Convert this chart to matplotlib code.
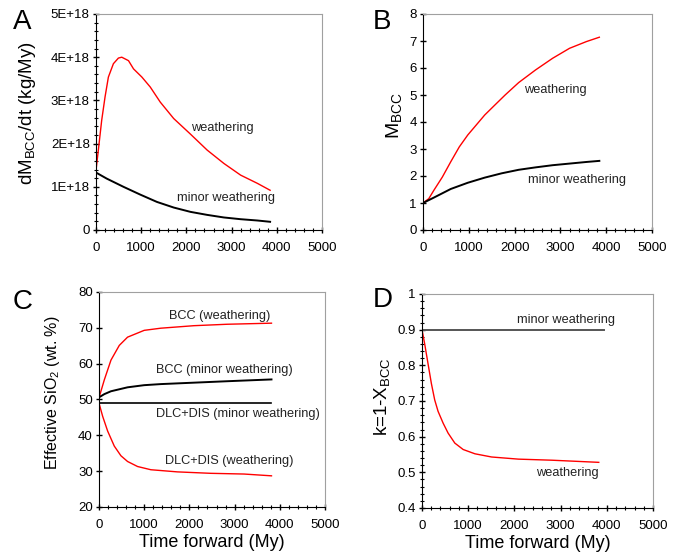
import matplotlib
matplotlib.use("Agg")
import matplotlib.pyplot as plt
from matplotlib.ticker import MultipleLocator, FuncFormatter
import numpy as np

plt.rcParams['font.family'] = ['Liberation Sans', 'DejaVu Sans']
plt.rcParams['mathtext.fontset'] = 'custom'
plt.rcParams['mathtext.rm'] = 'Liberation Sans'

# --- panel A: dM_BCC/dt (kg/My) ---
a_t_red = [0, 52, 126, 200, 274, 385, 496, 570, 719, 830, 1015, 1200, 1422, 1719,
           2089, 2459, 2830, 3200, 3570, 3852]
a_red = [1.38, 1.85, 2.54, 3.08, 3.54, 3.85, 3.98, 4.0, 3.92, 3.73, 3.54, 3.31, 2.96,
         2.58, 2.22, 1.85, 1.54, 1.27, 1.08, 0.92]
a_t_blk = [0, 237, 607, 978, 1348, 1719, 2089, 2459, 2830, 3200, 3570, 3852]
a_blk = [1.33, 1.19, 1.0, 0.82, 0.65, 0.52, 0.42, 0.35, 0.29, 0.25, 0.22, 0.19]

# --- panel B: M_BCC ---
b_t_red = [0, 126, 237, 422, 607, 793, 978, 1163, 1348, 1570, 1793, 2089, 2459, 2830,
           3200, 3570, 3850]
b_red = [1.0, 1.16, 1.47, 1.96, 2.53, 3.08, 3.52, 3.89, 4.26, 4.63, 5.0, 5.46, 5.93,
         6.36, 6.73, 6.98, 7.14]
b_t_blk = [0, 237, 607, 978, 1348, 1719, 2089, 2459, 2830, 3200, 3570, 3850]
b_blk = [1.0, 1.2, 1.52, 1.75, 1.94, 2.1, 2.23, 2.32, 2.4, 2.46, 2.52, 2.56]

# --- panel C: effective SiO2 ---
c_t_bcc_w = [0, 118, 265, 449, 632, 1000, 1368, 2103, 2838, 3816]
c_bcc_w = [50.5, 55.5, 61.0, 65.1, 67.4, 69.3, 69.9, 70.6, 71.0, 71.3]
c_t_bcc_m = [0, 118, 265, 632, 1000, 1368, 2103, 2838, 3816]
c_bcc_m = [50.6, 51.5, 52.3, 53.4, 54.0, 54.3, 54.7, 55.1, 55.6]
c_t_dlc_m = [0, 3816]
c_dlc_m = [49.0, 49.0]
c_t_dlc_w = [0, 81, 191, 338, 485, 632, 853, 1147, 1735, 2471, 3206, 3816]
c_dlc_w = [49.0, 45.3, 41.2, 37.0, 34.3, 32.7, 31.3, 30.4, 29.8, 29.4, 29.2, 28.7]

# --- panel D: k = 1 - X_BCC ---
d_t_blk = [0, 3950]
d_blk = [0.9, 0.9]
d_t_red = [0, 58, 130, 203, 275, 348, 457, 565, 710, 891, 1145, 1507, 2087, 2812, 3826]
d_red = [0.9, 0.86, 0.805, 0.749, 0.703, 0.671, 0.638, 0.61, 0.582, 0.564, 0.552,
         0.543, 0.537, 0.534, 0.528]

W, H = 681, 559
fig = plt.figure(figsize=(W / 100, H / 100), dpi=100)


def make_ax(l, r, t, b):
    return fig.add_axes([l / W, 1 - b / H, (r - l) / W, (b - t) / H])


def style(ax, ylim, ymaj, yminor=None):
    ax.set_xlim(0, 5000)
    ax.set_ylim(*ylim)
    ax.xaxis.set_major_locator(MultipleLocator(1000))
    ax.xaxis.set_minor_locator(MultipleLocator(200))
    ax.yaxis.set_major_locator(MultipleLocator(ymaj))
    if yminor:
        ax.yaxis.set_minor_locator(MultipleLocator(yminor))
    for s in ['top', 'right']:
        ax.spines[s].set_color('#a0a0a0')
    ax.tick_params(which='major', direction='inout', length=5, width=1, labelsize=9.5)
    ax.tick_params(which='minor', direction='inout', length=3.5, width=0.8)
    ax.tick_params(axis='x', which='major', pad=6)
    ax.tick_params(axis='y', which='major', pad=2)
    ax.tick_params(top=False, right=False, which='both')


red = '#ff0000'
txt = '#222222'

# A
ax = make_ax(96, 322, 14, 230)
ax.plot(a_t_red, np.array(a_red) * 1e18, color=red, lw=1)
ax.plot(a_t_blk, np.array(a_blk) * 1e18, color='black', lw=1.4)
style(ax, (0, 5e18), 1e18, 2e17)
ax.yaxis.set_major_formatter(FuncFormatter(lambda v, p: '0' if v == 0 else '%dE+18' % round(v / 1e18)))
ax.set_ylabel(r'dM$_{\mathregular{BCC}}$/dt (kg/My)', fontsize=13.5)
ax.yaxis.set_label_coords(-0.257, 0.54)
ax.text(2100, 2.37e18, 'weathering', fontsize=9.2, color=txt, va='center')
ax.text(1790, 0.73e18, 'minor weathering', fontsize=9.2, color=txt, va='center')
fig.text(13 / W, 1 - 22 / H, 'A', fontsize=20, va='center')

# B
ax = make_ax(423, 652, 14, 230)
ax.plot(b_t_red, b_red, color=red, lw=1)
ax.plot(b_t_blk, b_blk, color='black', lw=1.4)
style(ax, (0, 8), 1)
ax.set_ylabel(r'M$_{\mathregular{BCC}}$', fontsize=14)
ax.yaxis.set_label_coords(-0.079, 0.53)
ax.text(2200, 5.17, 'weathering', fontsize=9.2, color=txt, va='center')
ax.text(2290, 1.84, 'minor weathering', fontsize=9.2, color=txt, va='center')
fig.text(373 / W, 1 - 22 / H, 'B', fontsize=20, va='center')

# C
ax = make_ax(99, 325, 292, 507)
ax.plot(c_t_bcc_w, c_bcc_w, color=red, lw=1)
ax.plot(c_t_bcc_m, c_bcc_m, color='black', lw=1.4)
ax.plot(c_t_dlc_m, c_dlc_m, color='black', lw=1.2)
ax.plot(c_t_dlc_w, c_dlc_w, color=red, lw=1)
style(ax, (20, 80), 10)
ax.set_ylabel(r'Effective SiO$_{\mathregular{2}}$ (wt. %)', fontsize=11.5)
ax.yaxis.set_label_coords(-0.164, 0.53)
ax.set_xlabel('Time forward (My)', fontsize=13)
ax.xaxis.set_label_coords(0.5, -0.125)
ax.text(1550, 73.2, 'BCC (weathering)', fontsize=9.2, color=txt, va='center')
ax.text(1270, 58.2, 'BCC (minor weathering)', fontsize=9.2, color=txt, va='center')
ax.text(1270, 46.0, 'DLC+DIS (minor weathering)', fontsize=9.2, color=txt, va='center')
ax.text(1460, 32.7, 'DLC+DIS (weathering)', fontsize=9.2, color=txt, va='center')
fig.text(13 / W, 1 - 302 / H, 'C', fontsize=20, va='center')

# D
ax = make_ax(422, 653, 294, 508)
ax.plot(d_t_blk, d_blk, color='#555555', lw=1.4)
ax.plot(d_t_red, d_red, color=red, lw=1)
style(ax, (0.4, 1.0), 0.1, 0.02)
ax.yaxis.set_major_formatter(FuncFormatter(lambda v, p: '1' if abs(v - 1) < 1e-9 else '%.1f' % v))
ax.set_ylabel(r'k=1-X$_{\mathregular{BCC}}$', fontsize=13.5)
ax.yaxis.set_label_coords(-0.126, 0.52)
ax.set_xlabel('Time forward (My)', fontsize=13)
ax.xaxis.set_label_coords(0.5, -0.125)
ax.text(2065, 0.928, 'minor weathering', fontsize=9.2, color=txt, va='center')
ax.text(2464, 0.498, 'weathering', fontsize=9.2, color=txt, va='center')
fig.text(373 / W, 1 - 300 / H, 'D', fontsize=20, va='center')

fig.savefig('out.png', dpi=100)
